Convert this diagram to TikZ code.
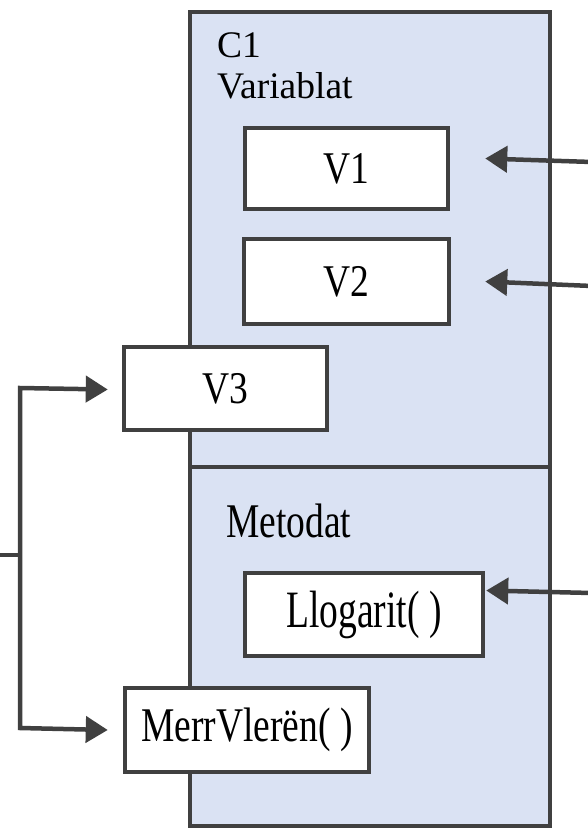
\documentclass[tikz,border=0pt]{standalone}
\usepackage{fontspec}
\usepackage{graphicx}
\setmainfont{Liberation Serif}
\usetikzlibrary{arrows.meta}
\definecolor{edge}{HTML}{404040}
\definecolor{classfill}{HTML}{DAE2F3}
% vertically stretched label text
\newcommand{\tallword}[2]{\scalebox{1}[#1]{#2}}
\begin{document}
\begin{tikzpicture}[x=1pt,y=-1pt,
  outline/.style={draw=edge,line width=4.5pt},
  member/.style={outline,fill=white,inner sep=0pt,
    font=\fontsize{37.5}{41}\selectfont},
  label/.style={inner sep=0pt,anchor=base west,
    font=\fontsize{37.5}{41}\selectfont},
  conn/.style={draw=edge,line width=4.5pt,line join=miter,
    -{Triangle[length=22pt,width=26pt]}},
  bar/.style={draw=edge,line width=4.5pt}]
\useasboundingbox (0,0) rectangle (588,830);

% class box with its two compartments
\draw[outline,fill=classfill] (190,12) rectangle (550,826);
\coordinate (divL) at (190,467);
\coordinate (divR) at (550,467);
\draw[outline] (divL) -- (divR);

\node[label] (cname) at (217,57) {C1};
\node[label] (vars) at (217,98) {Variablat};
\node[label] (meth) at (226,537) {\tallword{1.29}{Metodat}};

% members
\node[member,minimum width=203pt,minimum height=81pt] (V1) at (346.5,168.5) {\tallword{1.21}{V1}};
\node[member,minimum width=205pt,minimum height=85pt] (V2) at (346.5,281.5) {\tallword{1.21}{V2}};
\node[member,minimum width=203pt,minimum height=83pt] (V3) at (225.5,388.5) {\tallword{1.21}{V3}};
\node[member,minimum width=238pt,minimum height=83pt] (LL) at (364,614.5) {\tallword{1.4}{Llogarit( )}};
\node[member,minimum width=244pt,minimum height=84pt] (MV) at (247,730) {\tallword{1.29}{MerrVlerën( )}};

% incoming references from the right
\coordinate (r1) at (592,162);
\coordinate (r2) at (592,286);
\coordinate (r3) at (592,593);
\draw[conn] (r1) -- ([xshift=35pt,yshift=10pt]V1.east);
\draw[conn] (r2) -- ([xshift=34pt]V2.east);
\draw[conn] (r3) -- ([xshift=1pt,yshift=24pt]LL.east);

% bracket on the left
\coordinate (b0) at (-2,555);
\coordinate (bm) at (20,555);
\coordinate (bt) at (20,388);
\coordinate (bb) at (20,728);
\draw[bar] (b0) -- (bm);
\draw[conn,{Triangle[length=22pt,width=26pt]}-{Triangle[length=22pt,width=26pt]}]
  ([xshift=-14pt,yshift=-1pt]V3.west) -- (bt) -- (bb) -- ([xshift=-15pt]MV.west);
\end{tikzpicture}
\end{document}
